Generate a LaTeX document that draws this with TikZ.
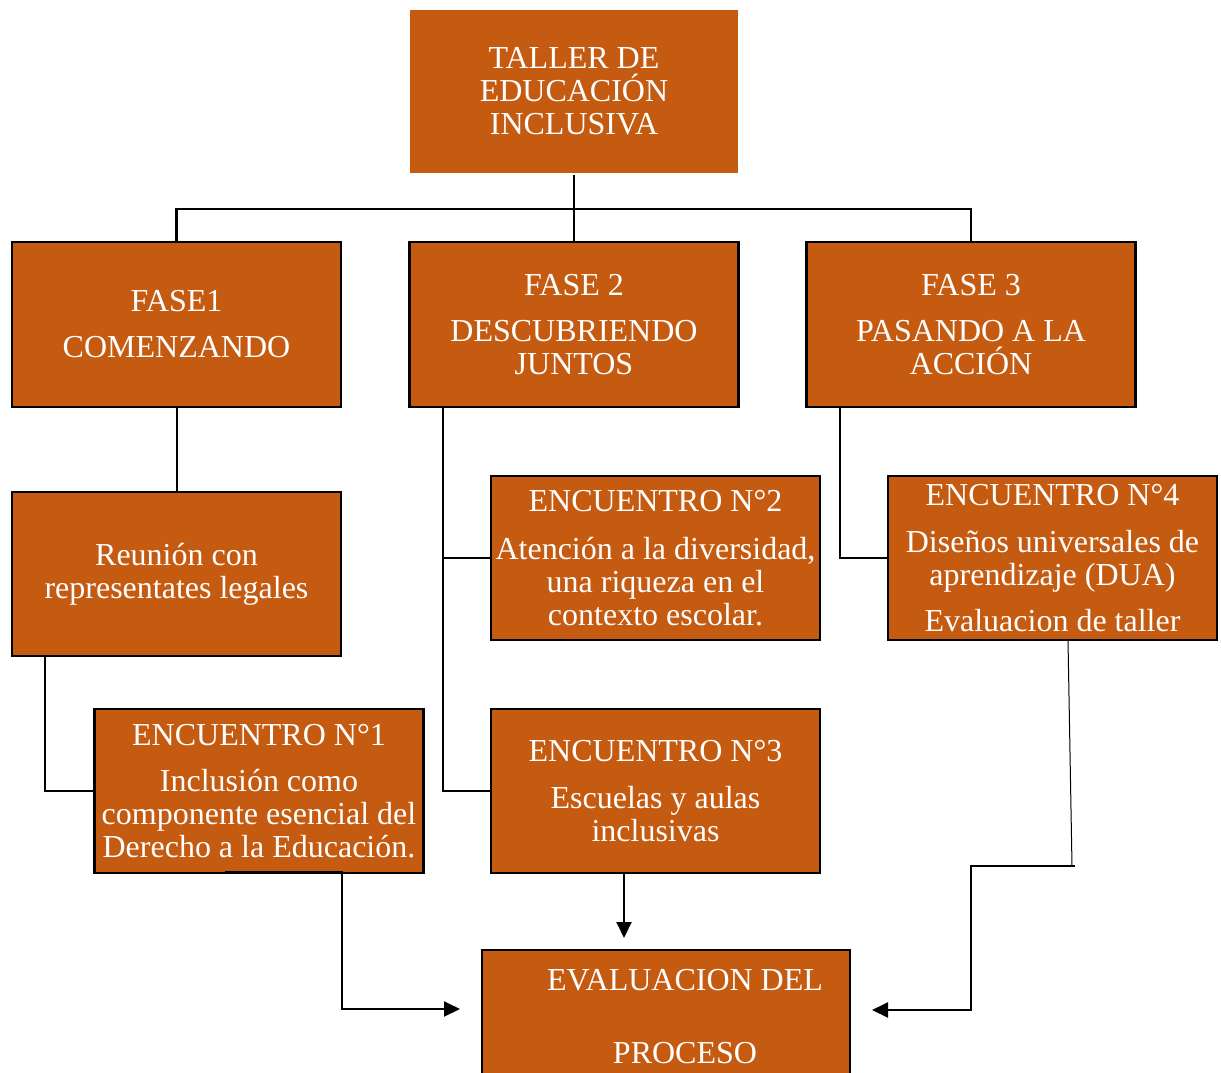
\documentclass[tikz,border=0pt]{standalone}
\usepackage{fontspec}
\setmainfont{Liberation Serif}
\usepackage{tikz}
\usetikzlibrary{positioning, arrows.meta, calc}
\definecolor{taller}{HTML}{C55A11}

\begin{document}
\begin{tikzpicture}[x=1pt,y=1pt,node distance=2cm,on grid,
    box/.style={draw=black, line width=2.4pt, fill=taller, text=white, align=center,
        inner sep=0pt, outer sep=0pt, minimum width=329pt, minimum height=164pt,
        font=\fontsize{32}{33}\selectfont},
    link/.style={draw=black, line width=2pt},
    arr/.style={link, -{Triangle[length=16pt,width=15pt]}}]
    \useasboundingbox (0,0) rectangle (1221,-1073);
       \node[box, draw=taller, minimum width=326pt, minimum height=161pt] (taller) at (574,-91.5)
            {TALLER DE\\EDUCACIÓN\\INCLUSIVA};
        \node[box, minimum height=165pt] (fase2) [below =233pt of taller] {FASE 2\\[13pt]DESCUBRIENDO\\JUNTOS};
        \node[box, minimum height=165pt] (fase1) [left =397.5pt of fase2] {FASE1\\[13pt]COMENZANDO};
        \node[box, minimum height=165pt] (fase3) [right =397pt of fase2] {FASE 3\\[13pt]PASANDO A LA\\ACCIÓN};
        \node[box] (reunion) [below =249.5pt of fase1] {Reunión con\\representates legales};
        \node[box] (enc1) [below right =217pt and 82.5pt of reunion]
            {ENCUENTRO N°1\\[13pt]Inclusión como\\componente esencial del\\Derecho a la Educación.};
        \node[box] (enc2) [below right =233.5pt and 81.5pt of fase2]
            {ENCUENTRO N°2\\[15pt]Atención a la diversidad,\\una riqueza en el\\contexto escolar.};
        \node[box] (enc3) [below =233pt of enc2] {ENCUENTRO N°3\\[14pt]Escuelas y aulas\\inclusivas};
        \node[box] (enc4) [right =397pt of enc2]
            {ENCUENTRO N°4\\[14pt]Diseños universales de\\aprendizaje (DUA)\\[13pt]Evaluacion de taller};
        \node[box, minimum width=368pt, minimum height=133pt] (eval) [below right =225.5pt and 10.5pt of enc3]
            {\hspace*{38pt}EVALUACION DEL\\[40pt]\hspace*{38pt}PROCESO};
        \coordinate (c4) at (1072,-866);

        \draw[link] ([yshift=-3pt]taller.south) -- ++(0,-34) coordinate (bus);
        \draw[link, line width=2.6pt] (fase1.north) |- (bus) -| (fase3.north);
        \draw[link] (bus) -- (fase2.north);
        \draw[link] (fase1.south) -- (reunion.north);
        \draw[link] ([xshift=33pt]reunion.south west) |- (enc1.west);
        \draw[link] ([xshift=33pt]fase2.south west) |- (enc2.west);
        \draw[link] ([xshift=33pt]fase2.south west) |- (enc3.west);
        \draw[link] ([xshift=33pt]fase3.south west) |- (enc4.west);

        \draw[arr, shorten >=22pt] ([xshift=-34pt,yshift=1pt]enc1.south) -- ([xshift=83pt,yshift=1pt]enc1.south)
            |- ([yshift=7.5pt]eval.west);
        \draw[arr, shorten >=12pt] ([xshift=-31.5pt]enc3.south) -- ([xshift=-31.5pt]enc3.south |- eval.north);
        \draw[black, line width=1pt] ([xshift=15.5pt]enc4.south) -- (c4);
        \draw[arr, shorten >=22pt] ([xshift=3pt]c4) -- ++(-104,0) |- ([yshift=6.5pt]eval.east);

    \end{tikzpicture}
\end{document}
